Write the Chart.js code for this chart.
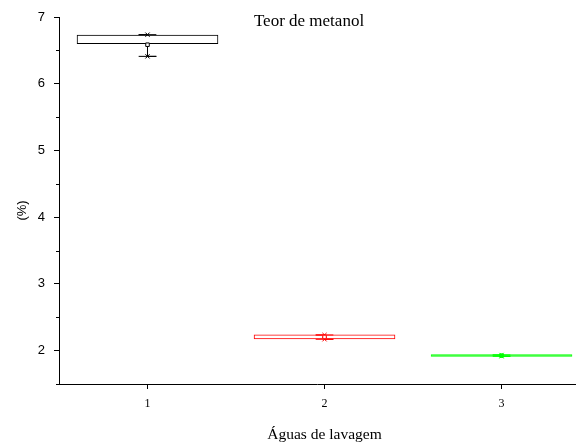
<!DOCTYPE html>
<html>
<head>
<meta charset="utf-8">
<script src="https://cdn.jsdelivr.net/npm/chart.js"></script>
<style>
html, body { margin: 0; padding: 0; background: #fff; overflow: hidden; }
</style>
</head>
<body>
<canvas id="myChart" width="580" height="443"></canvas>
<script>
// box plot values
var categories = [1, 2, 3];
var boxLow = [6.595, 2.17, 1.91];
var boxHigh = [6.735, 2.24, 1.945];
var means = [6.585, 2.205, 1.925];
var minVals = [6.41, 2.17, 1.915];
var maxVals = [6.735, 2.235, 1.935];
var colors = ['#000000', '#ff0000', '#00ff00'];
var yTicks = [2, 3, 4, 5, 6, 7];
var yMinor = [1.5, 2.5, 3.5, 4.5, 5.5, 6.5];
var chartTitle = 'Teor de metanol';
var xTitle = 'Águas de lavagem';
var yTitle = '(%)';

function whisker(i) {
    var c = categories[i], w = 0.05;
    return {
        type: 'scatter',
        order: 2,
        data: [
            {x: c - w, y: minVals[i]}, {x: c + w, y: minVals[i]},
            {x: c, y: minVals[i]}, {x: c, y: boxLow[i]},
            {x: NaN, y: NaN},
            {x: c, y: boxHigh[i]}, {x: c, y: maxVals[i]},
            {x: c - w, y: maxVals[i]}, {x: c + w, y: maxVals[i]}
        ],
        showLine: true,
        spanGaps: false,
        borderColor: colors[i],
        borderWidth: 1,
        pointRadius: 0
    };
}

var extremes = [];
var extremeColors = [];
categories.forEach(function (c, i) {
    extremes.push({x: c, y: minVals[i]}, {x: c, y: maxVals[i]});
    extremeColors.push(colors[i], colors[i]);
});

// minor ticks on y + the titles
var extras = {
    id: 'extras',
    afterDraw: function (chart) {
        var ctx = chart.ctx, y = chart.scales.y, x = chart.scales.x, left = chart.chartArea.left;
        ctx.save();
        ctx.strokeStyle = '#000';
        ctx.lineWidth = 1;
        yMinor.forEach(function (v) {
            var py = Math.round(y.getPixelForValue(v)) + 0.5;
            ctx.beginPath();
            ctx.moveTo(left - 3, py);
            ctx.lineTo(left, py);
            ctx.stroke();
        });
        ctx.fillStyle = '#000';
        ctx.textAlign = 'center';
        ctx.textBaseline = 'alphabetic';
        ctx.font = '17px "Liberation Serif"';
        ctx.fillText(chartTitle, (chart.chartArea.left + chart.chartArea.right) / 2 - 8, 25.5);
        ctx.font = '15.5px "Liberation Serif"';
        ctx.fillText(xTitle, x.getPixelForValue(2), 438.5);
        ctx.translate(22, 210.5);
        ctx.rotate(-Math.PI / 2);
        ctx.textBaseline = 'middle';
        ctx.font = '13px "Liberation Sans"';
        ctx.fillText(yTitle, 0, 0);
        ctx.restore();
    }
};

var datasets = [{
    type: 'bar',
    order: 3,
    data: categories.map(function (c, i) { return {x: c, y: [boxLow[i], boxHigh[i]]}; }),
    backgroundColor: ['rgba(255,255,255,0)', 'rgba(255,255,255,0)', '#00ff00'],
    borderColor: colors,
    borderWidth: 1,
    borderSkipped: false,
    barPercentage: 0.8,
    categoryPercentage: 1
}];
categories.forEach(function (c, i) { datasets.push(whisker(i)); });
datasets.push({
    type: 'scatter',
    order: 1,
    data: extremes,
    pointStyle: 'crossRot',
    pointRadius: 3,
    borderColor: extremeColors,
    borderWidth: 1
});
datasets.push({
    type: 'scatter',
    order: 0,
    data: categories.map(function (c, i) { return {x: c, y: means[i]}; }),
    pointStyle: 'rect',
    pointRadius: 2.5,
    backgroundColor: ['#fff', '#fff', '#00ff00'],
    borderColor: colors,
    borderWidth: 1
});

new Chart('myChart', {
    type: 'bar',
    data: {datasets: datasets},
    plugins: [extras],
    options: {
        responsive: false,
        animation: false,
        layout: {padding: {top: 17, right: 0, left: 0, bottom: 0}},
        plugins: {legend: {display: false}, tooltip: {enabled: false}},
        scales: {
            x: {
                type: 'linear',
                min: 0.5,
                max: 3.415,
                offset: false,
                afterBuildTicks: function (s) { s.ticks = categories.map(function (v) { return {value: v}; }); },
                afterFit: function (s) { s.height = 59; },
                grid: {drawOnChartArea: false, offset: false, tickLength: 5, color: '#000'},
                border: {color: '#000', width: 1},
                ticks: {color: '#000', padding: 8, font: {family: 'Liberation Serif', size: 12}}
            },
            y: {
                min: 1.5,
                max: 7,
                afterBuildTicks: function (s) { s.ticks = yTicks.map(function (v) { return {value: v}; }); },
                afterFit: function (s) { s.width = 59; },
                grid: {drawOnChartArea: false, tickLength: 5, color: '#000'},
                border: {color: '#000', width: 1},
                ticks: {color: '#000', padding: 9, font: {family: 'Liberation Sans', size: 13}}
            }
        }
    }
});
</script>
</body>
</html>
